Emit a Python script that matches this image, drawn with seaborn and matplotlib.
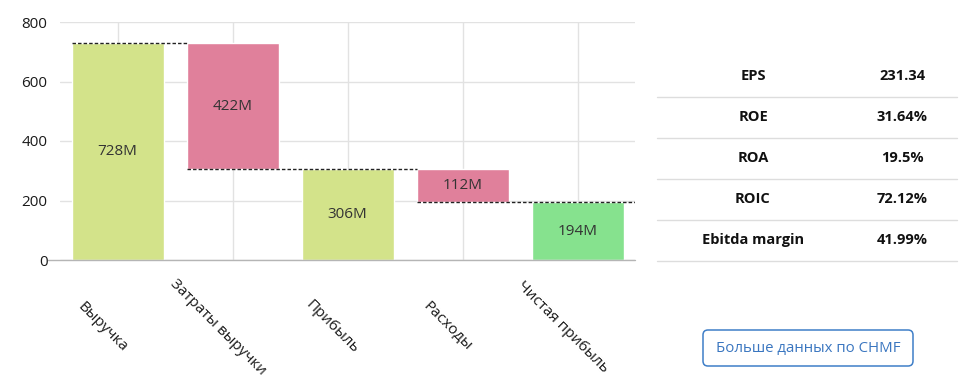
import matplotlib
matplotlib.use("Agg")
import matplotlib.pyplot as plt
import seaborn as sns
import pandas as pd
from matplotlib.patches import FancyBboxPatch

# waterfall data (values in millions)
categories = ["Выручка", "Затраты выручки", "Прибыль", "Расходы", "Чистая прибыль"]
bar_bottoms = [0, 306, 0, 194, 0]
bar_heights = [728, 422, 306, 112, 194]
bar_labels = ["728M", "422M", "306M", "112M", "194M"]
bar_colors = ["#d3e38a", "#e0809b", "#d3e38a", "#e0809b", "#86e28e"]

# dashed connectors: level, from bar index, to bar index
connector_levels = [728, 306, 194]
connector_from = [0, 1, 3]
connector_to = [1, 3, 5]

# side table
metric_names = ["EPS", "ROE", "ROA", "ROIC", "Ebitda margin"]
metric_values = ["231.34", "31.64%", "19.5%", "72.12%", "41.99%"]
button_text = "Больше данных по CHMF"

sns.set_theme(style="whitegrid")
plt.rcParams["font.family"] = ["Open Sans", "DejaVu Sans"]

W, H = 964, 391
fig = plt.figure(figsize=(W / 100, H / 100), dpi=100)
ax_left, ax_w = 60, 575
ax = fig.add_axes([ax_left / W, 1 - 260 / H, ax_w / W, 238 / H])

df = pd.DataFrame({"cat": categories, "bottom": bar_bottoms,
                   "height": bar_heights, "color": bar_colors})
for _, row in df.iterrows():
    sns.barplot(x=[row["cat"]], y=[row["height"]], order=categories,
                bottom=row["bottom"], color=row["color"], saturation=1,
                width=0.8, errorbar=None, ax=ax, zorder=2)

for i, row in df.iterrows():
    ax.text(i, row["bottom"] + row["height"] / 2, bar_labels[i],
            ha="center", va="center", fontsize=11, color="#333333", zorder=4)

for lvl, a, b in zip(connector_levels, connector_from, connector_to):
    ax.hlines(lvl, a - 0.4, min(b - 0.4, 4.5), colors="#222222",
              linestyles=(0, (2.5, 1.5)), lw=1, zorder=3)

ax.set_xlim(-0.5, 4.5)
ax.set_ylim(0, 800)
ax.set_yticks([0, 200, 400, 600, 800])
ax.set_xticks(range(len(categories)))
ax.set_xticklabels([])
ax.set_xlabel("")
ax.set_ylabel("")
ax.grid(True, color="#e2e2e2", lw=1)
ax.tick_params(axis="both", length=0)
ax.tick_params(axis="y", labelsize=11, labelcolor="#1a1a1a", pad=9)
for s in ax.spines.values():
    s.set_visible(False)

# overlay in pixel coordinates for labels, table and button
ov = fig.add_axes([0, 0, 1, 1])
ov.set_xlim(0, W)
ov.set_ylim(H, 0)
ov.axis("off")

ov.plot([48, 635], [260, 260], color="#b5b5b5", lw=1)

step = ax_w / len(categories)
for i, cat in enumerate(categories):
    cx = ax_left + step * (i + 0.5) - 15
    ov.text(cx, 327, cat, rotation=-45, rotation_mode="anchor",
            ha="center", va="center", fontsize=11, color="#1a1a1a")

for i, (name, val) in enumerate(zip(metric_names, metric_values)):
    y = 76 + 41 * i
    ov.text(753, y, name, ha="center", va="center", fontsize=10.5,
            fontweight="bold", color="#111111")
    ov.text(902, y, val, ha="center", va="center", fontsize=10.5,
            fontweight="bold", color="#111111")
    ov.plot([657, 957], [y + 21, y + 21], color="#dddddd", lw=1)

ov.add_patch(FancyBboxPatch((703, 330), 210, 36,
                            boxstyle="round,pad=0,rounding_size=5",
                            ec="#3f7fc8", fc="white", lw=1.1))
ov.text(808, 348.5, button_text, ha="center", va="center",
        fontsize=10.8, color="#3a76c0")

fig.savefig("out.png", dpi=100)
